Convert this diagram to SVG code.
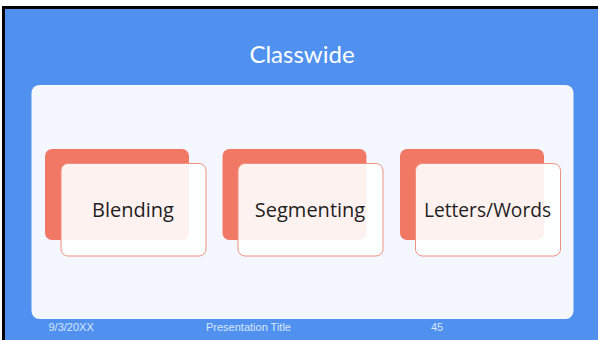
<svg xmlns="http://www.w3.org/2000/svg" width="598" height="340" viewBox="0 0 598 340">
<style>
.back{fill:#F07864;}
.front{fill:#FFFFFF;fill-opacity:0.9;stroke:#F0907E;stroke-width:1;}
.lbl{font-family:"Open Sans","Liberation Sans",sans-serif;font-size:20px;fill:#1E1E1E;text-anchor:middle;}
.foot{font-family:"Liberation Sans",Arial,sans-serif;font-size:11px;fill:#D9E6FB;}
</style>
<rect x="0" y="0" width="598" height="340" fill="#FFFFFF"/>
<rect x="2" y="6" width="596" height="334" fill="#000000"/>
<rect x="5" y="9" width="593" height="331" fill="#5091F0"/>
<text x="302" y="62.5" font-family="Lato,'Open Sans',sans-serif" font-size="24" fill="#FFFFFF" text-anchor="middle">Classwide</text>
<rect x="31.5" y="85" width="542" height="234" rx="8" fill="#F4F8FE"/>
<g id="node-blending">
<rect class="back" x="45" y="149" width="144" height="91" rx="7"/>
<rect class="front" x="61" y="163.5" width="145" height="92.5" rx="7"/>
<text class="lbl" x="133" y="216.5">Blending</text>
</g>
<g id="node-segmenting">
<rect class="back" x="222.5" y="149" width="144" height="91" rx="7"/>
<rect class="front" x="238" y="163.5" width="145" height="92.5" rx="7"/>
<text class="lbl" x="310" y="216.5">Segmenting</text>
</g>
<g id="node-letters">
<rect class="back" x="400" y="149" width="144" height="91" rx="7"/>
<rect class="front" x="415.5" y="163.5" width="145" height="92.5" rx="7"/>
<text class="lbl" x="487.5" y="216.5" style="font-size:19.2px">Letters/Words</text>
</g>
<g id="connectors"></g>
<text class="foot" x="48.5" y="331">9/3/20XX</text>
<text class="foot" x="206" y="331">Presentation Title</text>
<text class="foot" x="431" y="331">45</text>
</svg>
